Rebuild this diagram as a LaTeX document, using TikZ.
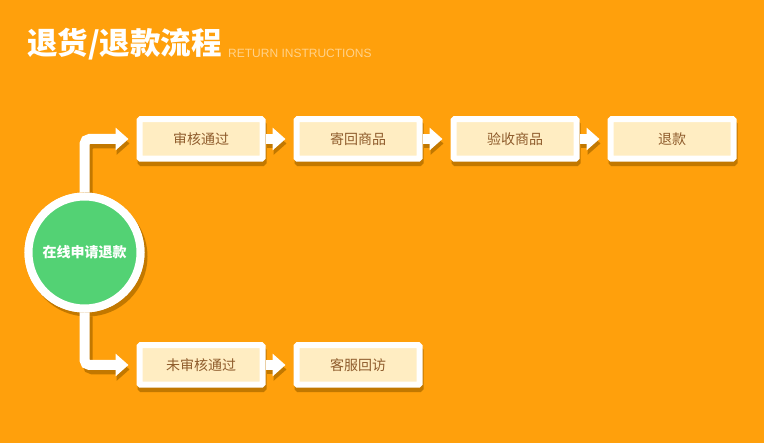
\documentclass[tikz,border=0pt]{standalone}
\usepackage{fontspec}
\setmainfont{Liberation Sans}
\newfontfamily\cjk{Noto Sans CJK SC}
\usetikzlibrary{arrows.meta}
\definecolor{bg}{HTML}{FFA00C}
\definecolor{shade}{HTML}{C27800}
\definecolor{cream}{HTML}{FFEDC2}
\definecolor{txt}{HTML}{8F5C2C}
\definecolor{leaf}{HTML}{53D274}
\definecolor{subt}{HTML}{FFD28A}
\tikzset{
  card/.style={draw=white, fill=cream, line width=6pt, rounded corners=1pt,
    minimum width=123pt, minimum height=39.5pt, inner sep=0pt,
    text=txt, font=\cjk\fontsize{14}{14}\selectfont},
  cardshadow/.style={card, draw=shade, fill=shade},
  hub/.style={circle, draw=white, fill=leaf, line width=8pt, minimum size=112pt,
    inner sep=0pt, text=white, font=\cjk\bfseries\fontsize{14}{14}\selectfont},
  hubshadow/.style={hub, draw=shade, fill=shade},
  flow/.style={draw=white, line width=10pt, rounded corners=5pt,
    -{Triangle[length=13pt,width=22pt]}, shorten >=8pt},
  flowshadow/.style={flow, draw=shade},
}
\begin{document}
\begin{tikzpicture}[x=1pt,y=-1pt]
  % background
  \fill[bg] (0,0) rectangle (764,443);
  \useasboundingbox (0,0) rectangle (764,443);

  % title
  \node[anchor=base west, inner sep=0pt, text=white,
        font=\cjk\bfseries\fontsize{30.5}{30.5}\selectfont] (title) at (27,55) {退货/退款流程};
  \node[anchor=base west, inner sep=0pt, text=subt,
        font=\fontsize{12}{12}\selectfont] (sub) at (228,57.5) {RETURN INSTRUCTIONS};

  % drop shadows
  \node[hubshadow] (sc) at (87.5,256.5) {};
  \node[cardshadow] (s1) at (202,143.5) {};
  \node[cardshadow] (s2) at (359,143.5) {};
  \node[cardshadow] (s3) at (516,143.5) {};
  \node[cardshadow] (s4) at (673,143.5) {};
  \node[cardshadow] (s5) at (202,369.5) {};
  \node[cardshadow] (s6) at (359,369.5) {};
  \path[flowshadow] (sc.north) |- (s1.west);
  \path[flowshadow] (sc.south) |- (s5.west);
  \path[flowshadow] (s1.east) -- (s2.west);
  \path[flowshadow] (s2.east) -- (s3.west);
  \path[flowshadow] (s3.east) -- (s4.west);
  \path[flowshadow] (s5.east) -- (s6.west);

  % hub and steps
  \node[hub] (c) at (84.5,252.5) {};
  \node[card] (b1) at (201,139) {审核通过};
  \node[card] (b2) at (358,139) {寄回商品};
  \node[card] (b3) at (515,139) {验收商品};
  \node[card] (b4) at (672,139) {退款};
  \node[card] (b5) at (201,365) {未审核通过};
  \node[card] (b6) at (358,365) {客服回访};

  % connectors
  \path[flow] (c.north) |- (b1.west);
  \path[flow] (c.south) |- (b5.west);
  \path[flow] (b1.east) -- (b2.west);
  \path[flow] (b2.east) -- (b3.west);
  \path[flow] (b3.east) -- (b4.west);
  \path[flow] (b5.east) -- (b6.west);

  % hub drawn over connector starts
  \node[hub] (c2) at (c) {在线申请退款};
\end{tikzpicture}
\end{document}
